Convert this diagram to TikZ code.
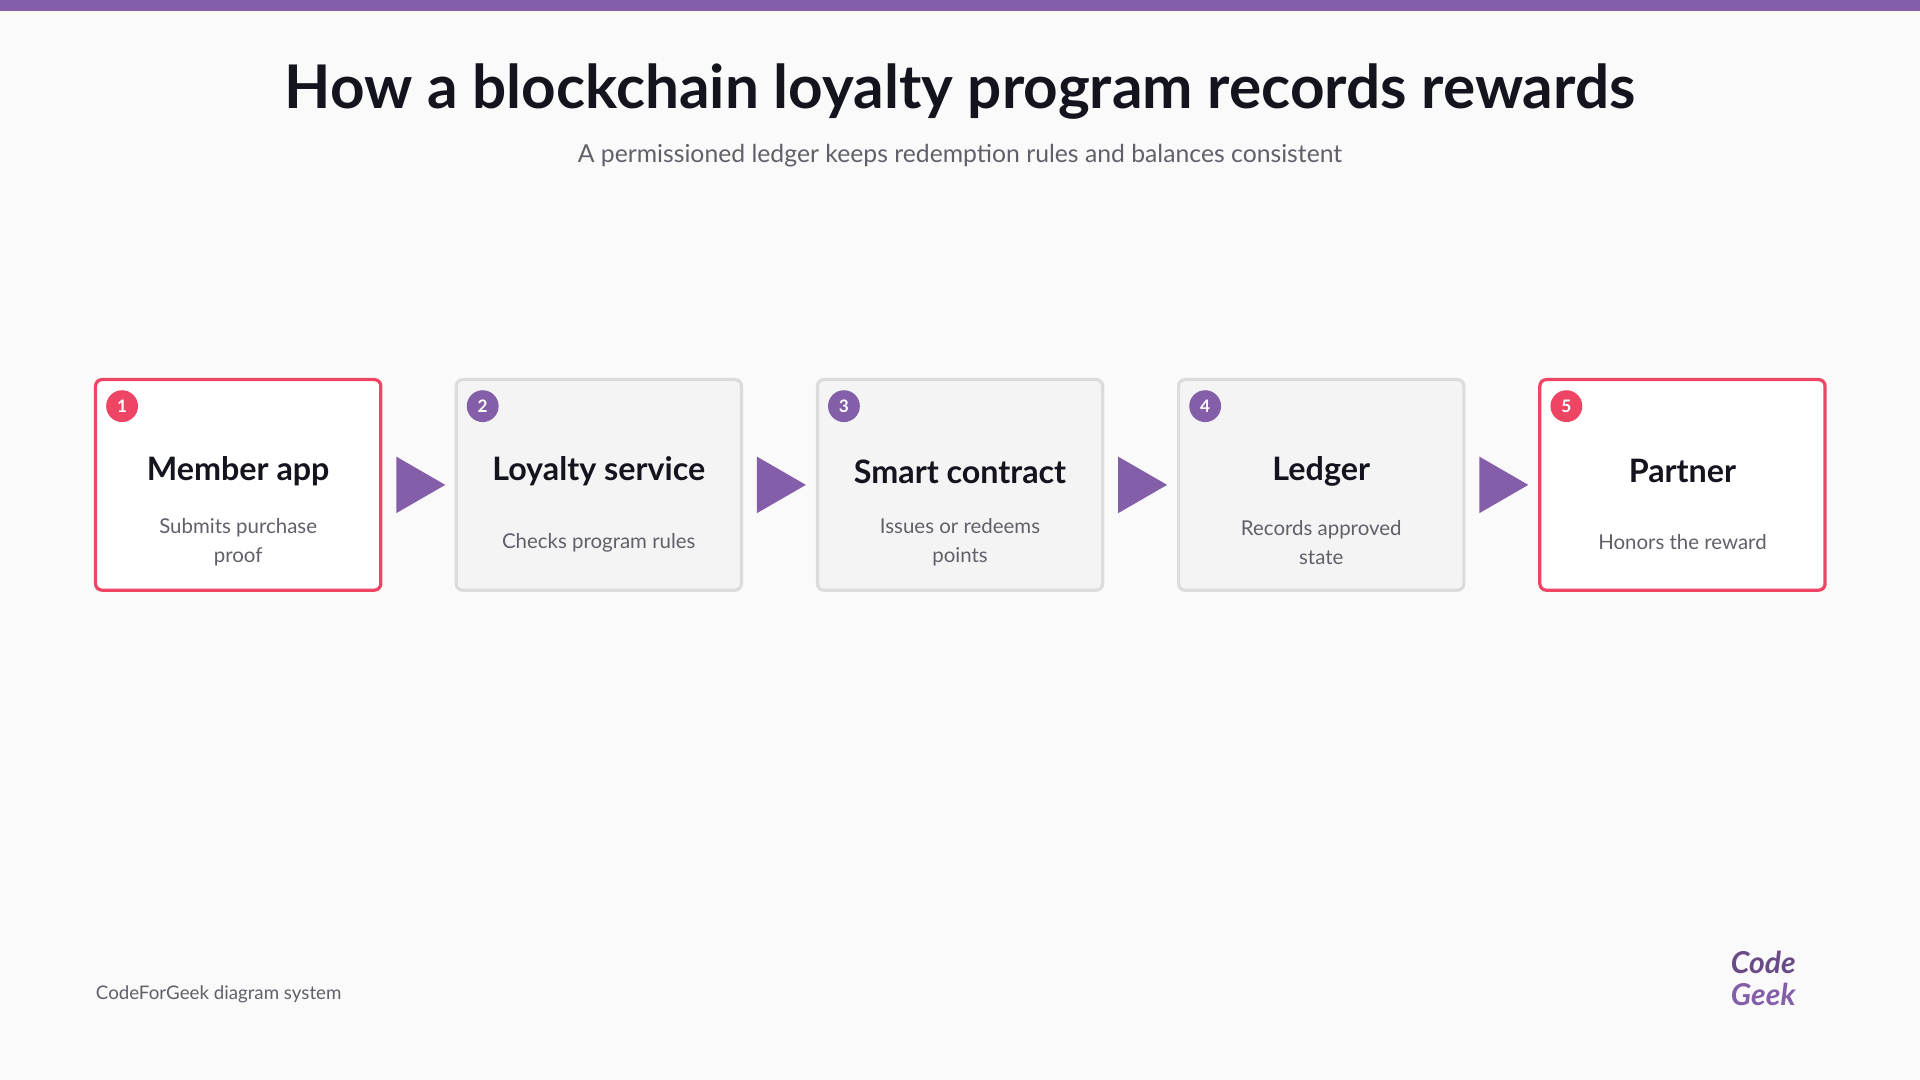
\documentclass[tikz,border=0pt]{standalone}
\usepackage{fontspec}
\setmainfont{Lato}
\usetikzlibrary{positioning,shapes.geometric}
\definecolor{cfgpurple}{HTML}{845EA8}
\definecolor{cfgred}{HTML}{EE4565}
\definecolor{cfgbg}{HTML}{FAFAFA}
\definecolor{cfgbox}{HTML}{F4F4F4}
\definecolor{cfgedge}{HTML}{DCDCDC}
\definecolor{cfgtext}{HTML}{14141F}
\definecolor{cfggrey}{HTML}{5F6069}
\tikzset{
  stage/.style={draw=cfgedge, fill=cfgbox, line width=1.5pt, rounded corners=3pt,
    minimum width=4.66cm, minimum height=3.44cm, inner sep=0pt},
  hot/.style={stage, draw=cfgred, fill=white},
  badge/.style={circle, fill=cfgpurple, text=white, minimum size=0.52cm, inner sep=0pt,
    font=\fontsize{8}{8}\selectfont\bfseries},
  heading/.style={font=\fontsize{15}{18}\selectfont\bfseries, text=cfgtext},
  note/.style={font=\fontsize{9.5}{13.5}\selectfont, text=cfggrey, align=center},
  pointer/.style={isosceles triangle, isosceles triangle apex angle=60, fill=cfgpurple,
    minimum height=0.8cm, inner sep=0pt, anchor=west}
}
\begin{document}
\begin{tikzpicture}[x=0.02cm,y=0.02cm]
\fill[cfgbg] (0,0) rectangle (1568,882);
\fill[cfgpurple] (0,873) rectangle (1568,882);
\node (title) at (784,807) {\fontsize{28}{32}\selectfont\bfseries\color{cfgtext}How a blockchain loyalty program records rewards};
\node (sub) at (784,755) {\fontsize{11.5}{14}\selectfont\color{cfggrey}A permissioned ledger keeps redemption rules and balances consistent};

\node[hot] (app) at (194.5,486) {};
\node[stage] (svc) at (489,486) {};
\node[stage] (sc) at (784,486) {};
\node[stage] (led) at (1079,486) {};
\node[hot] (par) at (1374,486) {};

\foreach \n/\k/\c/\h/\d in {app/1/cfgred/Member app/Submits purchase\\proof,
    svc/2/cfgpurple/Loyalty service/Checks program rules,
    sc/3/cfgpurple/Smart contract/Issues or redeems\\points,
    led/4/cfgpurple/Ledger/Records approved\\state,
    par/5/cfgred/Partner/Honors the reward} {
  \node[badge, fill=\c] (b\k) at ([xshift=0.46cm,yshift=-0.46cm]\n.north west) {\k};
  \node[heading] (h\k) at ([yshift=0.22cm]\n.center) {\h};
  \node[note] (d\k) at ([yshift=-0.94cm]\n.center) {\d};
}

\foreach \a/\b in {app/svc, svc/sc, sc/led, led/par}
  \node[pointer] (p\a) at ([xshift=0.22cm]\a.east) {};

\node[anchor=west, inner sep=0pt] (foot) at (78,70) {\fontsize{8.7}{10}\selectfont\color{cfggrey}CodeForGeek diagram system};
\node[inner sep=0pt] (logo1) at (1440,96) {\fontsize{14}{14}\selectfont\bfseries\itshape\color{cfgpurple!80!black}Code};
\node[inner sep=0pt] (logo2) at (1440,70) {\fontsize{14}{14}\selectfont\bfseries\itshape\color{cfgpurple}Geek};
\end{tikzpicture}
\end{document}
